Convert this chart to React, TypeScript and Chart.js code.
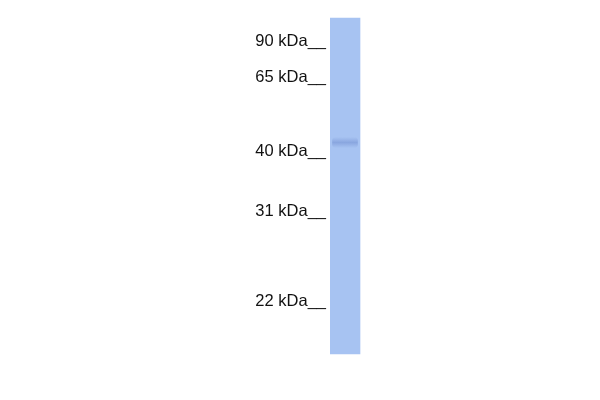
import React, { useEffect, useRef } from 'react';
import Chart from 'chart.js/auto';

// marker ladder (kDa) and where each one ran on the blot (px from top)
const markerKda = [90, 65, 40, 31, 22];
const markerPos = [41, 77.5, 151.5, 211, 301];

// the single lane: top / bottom of the strip, and the band found in it
const laneTop = 18;
const laneBottom = 354;
const bandPos = [137, 148];

const LABEL_WIDTH = 330;

export default function App() {
    const chartRef = useRef<HTMLCanvasElement | null>(null);

    useEffect(() => {
        let chartInstance: Chart | null = null;
        if (chartRef.current) {
            const ctx = chartRef.current.getContext('2d');
            if (ctx) {
                chartInstance = new Chart(ctx, {
                    type: 'bar',
                    data: {
                        datasets: [
                            {
                                label: 'band',
                                data: [{ x: 15, y: bandPos }],
                                // soft smear instead of a hard edge
                                backgroundColor: (c: any) => {
                                    const { chart } = c;
                                    const y = chart.scales.y;
                                    const y0 = y ? y.getPixelForValue(bandPos[0]) : NaN;
                                    const y1 = y ? y.getPixelForValue(bandPos[1]) : NaN;
                                    if (!chart.chartArea || !isFinite(y0) || !isFinite(y1)) return 'rgba(70, 100, 180, 0.15)';
                                    const g = chart.ctx.createLinearGradient(0, y0, 0, y1);
                                    g.addColorStop(0, 'rgba(70, 100, 180, 0)');
                                    g.addColorStop(0.5, 'rgba(70, 100, 180, 0.3)');
                                    g.addColorStop(1, 'rgba(70, 100, 180, 0)');
                                    return g;
                                },
                                barThickness: 25,
                                borderRadius: 4,
                                borderSkipped: false,
                                grouped: false,
                                order: 0,
                            },
                            {
                                label: 'lane',
                                data: [{ x: 15, y: [laneTop, laneBottom] }],
                                backgroundColor: '#a7c3f2',
                                barThickness: 30,
                                grouped: false,
                                order: 1,
                            },
                        ],
                    },
                    options: {
                        animation: false,
                        responsive: true,
                        maintainAspectRatio: false,
                        layout: { padding: 0 },
                        plugins: { legend: { display: false }, tooltip: { enabled: false } },
                        scales: {
                            x: { type: 'linear', min: 0, max: 600 - LABEL_WIDTH, offset: false, display: false },
                            y: {
                                type: 'linear',
                                min: 0,
                                max: 400,
                                reverse: true,
                                grid: { display: false, drawTicks: false },
                                border: { display: false },
                                afterBuildTicks: (scale) => {
                                    scale.ticks = markerPos.map(v => ({ value: v }));
                                },
                                afterFit: (scale) => {
                                    scale.width = LABEL_WIDTH;
                                    scale.paddingTop = 0;
                                    scale.paddingBottom = 0;
                                },
                                ticks: {
                                    autoSkip: false,
                                    padding: 4,
                                    color: '#111',
                                    font: { family: '"Liberation Sans", Arial, sans-serif', size: 16.5 },
                                    callback: (value) => {
                                        const i = markerPos.indexOf(Number(value));
                                        return i >= 0 ? `${markerKda[i]} kDa__` : '';
                                    },
                                },
                            },
                        },
                    },
                });
            }
        }
        return () => {
            if (chartInstance) chartInstance.destroy();
        };
    }, []);

    return (
        <div style={{ position: 'absolute', left: 0, top: 0, width: 600, height: 400, background: '#fff' }}>
            <canvas ref={chartRef}></canvas>
        </div>
    );
}
